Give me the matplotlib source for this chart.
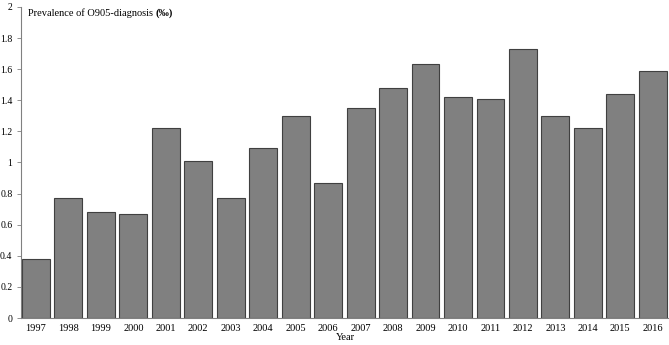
import matplotlib
matplotlib.use("Agg")
import matplotlib.pyplot as plt
import numpy as np

plt.rcParams['font.family'] = ['Liberation Serif', 'DejaVu Serif']

# data
years = ['1997', '1998', '1999', '2000', '2001', '2002', '2003', '2004', '2005', '2006',
         '2007', '2008', '2009', '2010', '2011', '2012', '2013', '2014', '2015', '2016']
prevalence = [0.38, 0.77, 0.68, 0.67, 1.22, 1.01, 0.77, 1.09, 1.30, 0.87,
              1.35, 1.48, 1.63, 1.42, 1.41, 1.73, 1.30, 1.22, 1.44, 1.59]
yticks = [0, 0.2, 0.4, 0.6, 0.8, 1, 1.2, 1.4, 1.6, 1.8, 2]
ytick_labels = ['0', '0.2', '0.4', '0.6', '0.8', '1', '1.2', '1.4', '1.6', '1.8', '2']

fig = plt.figure(figsize=(6.69, 3.45), dpi=100)
ax = fig.add_axes([0.031, 0.078, 0.969, 0.902])

x = np.arange(len(years))
ax.bar(x, prevalence, width=0.86, color='#808080', edgecolor='#404040', linewidth=0.8)

ax.set_xlim(-0.47, len(years) - 0.5)
ax.set_ylim(0, 2)
ax.set_yticks(yticks)
ax.set_yticklabels(ytick_labels)
ax.set_xticks(x)
ax.set_xticklabels(years)
ax.tick_params(axis='y', labelsize=7, length=3, width=0.6, color='#808080', pad=3)
ax.tick_params(axis='x', labelsize=7.5, length=0, pad=4)

for s in ['top', 'right']:
    ax.spines[s].set_visible(False)
for s in ['left', 'bottom']:
    ax.spines[s].set_color('#808080')
    ax.spines[s].set_linewidth(0.8)

t1 = ax.text(0.011, 0.997, 'Prevalence of O905-diagnosis ', transform=ax.transAxes,
             fontsize=7.5, va='top', ha='left')
ax.annotate('(‰)', xy=(1, 0), xycoords=t1, va='bottom', ha='left',
            fontsize=7.5, fontweight='bold')

fig.text(0.516, 0.010, 'Year', fontsize=7.5, ha='center', va='bottom')

plt.savefig('out.png', dpi=100)
